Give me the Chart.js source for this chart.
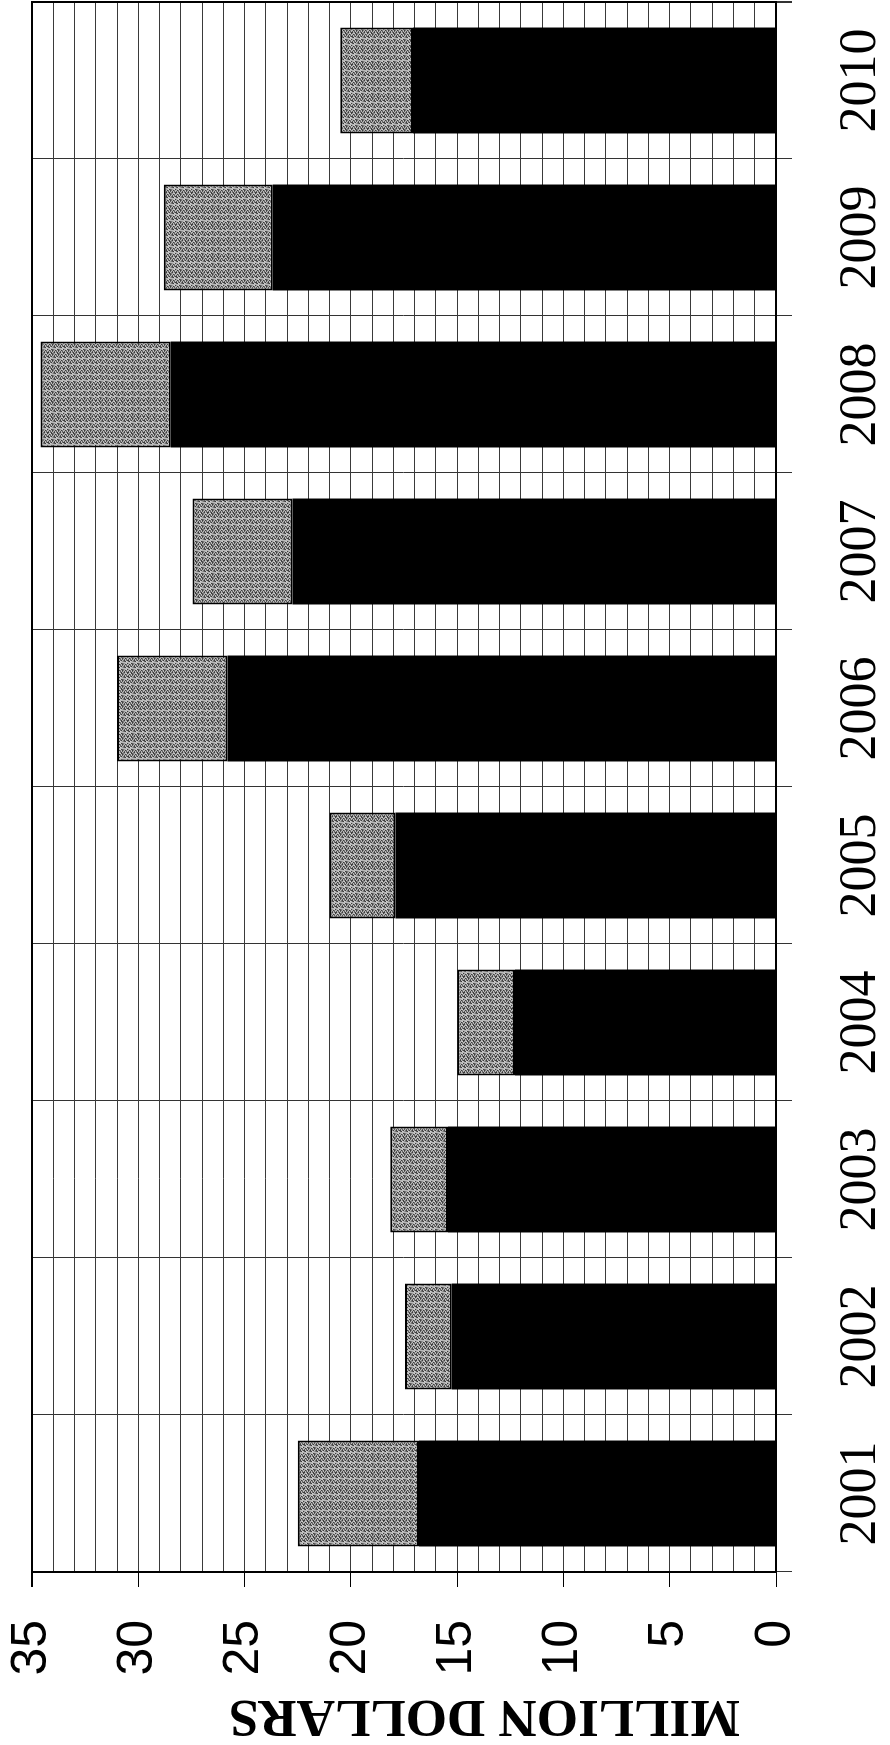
<!DOCTYPE html>
<html lang="en">
<head>
<meta charset="UTF-8" />
<title>Million dollars by year</title>
<script src="https://cdn.jsdelivr.net/npm/chart.js"></script>
<style>
  html, body { margin: 0; padding: 0; background: #fff; overflow: hidden; }
  body { width: 890px; height: 1745px; position: relative; }
  /* chart is drawn upright, then turned a quarter to the left like the scan */
  .turn {
    position: absolute;
    left: 0;
    top: 0;
    width: 1745px;
    height: 890px;
    transform-origin: 0 0;
    transform: translate(0, 1745px) rotate(-90deg);
  }
</style>
</head>
<body>
<div class="turn"><canvas id="chart" width="1745" height="890"></canvas></div>
<script>
  // data (million dollars)
  const years = ['2001', '2002', '2003', '2004', '2005', '2006', '2007', '2008', '2009', '2010'];
  const baseValues = [16.8, 15.25, 15.43, 12.28, 17.9, 25.8, 22.75, 28.47, 23.67, 17.08];
  const topValues = [5.7, 2.2, 2.72, 2.72, 3.1, 5.2, 4.7, 6.13, 5.13, 3.42];
  const valueMax = 35;
  const labelStep = 5;

  const serif = "'Liberation Serif', 'Times New Roman', Times, serif";
  const sans = "'Liberation Sans', Arial, Helvetica, sans-serif";
  Chart.defaults.font.family = serif;

  // speckled grey fill for the upper block (fixed tile, no randomness)
  function grainPattern() {
    const n = 16;
    const tile = document.createElement('canvas');
    tile.width = n;
    tile.height = n;
    const g = tile.getContext('2d');
    const shades = ['#3c3c3c', '#5a5a5a', '#7a7a7a', '#9a9a9a', '#b8b8b8', '#d4d4d4'];
    for (let i = 0; i < n; i++) {
      for (let j = 0; j < n; j++) {
        const k = (i * i * 7 + j * 13 + i * j * 5 + j * j * 3) % shades.length;
        g.fillStyle = shades[k];
        g.fillRect(i, j, 1, 1);
      }
    }
    return g.createPattern(tile, 'repeat');
  }

  // axis title sits off-centre toward zero, so it is drawn by hand
  const axisTitle = {
    id: 'axisTitle',
    afterDraw(chart) {
      const c = chart.ctx;
      c.save();
      c.translate(30, chart.chartArea.bottom - 36);
      c.rotate(-Math.PI / 2);
      c.font = 'bold 53px ' + serif;
      c.textAlign = 'left';
      c.textBaseline = 'middle';
      c.fillStyle = '#000';
      c.fillText('MILLION DOLLARS', 0, 0);
      c.restore();
    }
  };

  // plot frame on the two open sides
  const frame = {
    id: 'frame',
    afterDatasetsDraw(chart) {
      const a = chart.chartArea;
      const c = chart.ctx;
      c.save();
      c.strokeStyle = '#000';
      c.lineWidth = 2;
      c.strokeRect(a.left, a.top, a.right - a.left, a.bottom - a.top);
      c.restore();
    }
  };

  new Chart(document.getElementById('chart'), {
    type: 'bar',
    data: {
      labels: years,
      datasets: [
        {
          data: baseValues,
          backgroundColor: '#000',
          borderWidth: 0
        },
        {
          data: topValues,
          backgroundColor: grainPattern(),
          borderColor: '#000',
          borderWidth: 2,
          borderSkipped: false
        }
      ]
    },
    options: {
      responsive: false,
      devicePixelRatio: 1,
      animation: false,
      events: [],
      layout: { padding: { top: 32, right: 2, left: 0, bottom: 0 } },
      plugins: {
        legend: { display: false },
        tooltip: { enabled: false }
      },
      datasets: {
        bar: { categoryPercentage: 1, barPercentage: 0.675 }
      },
      scales: {
        x: {
          stacked: true,
          grid: {
            offset: true,
            color: '#333',
            lineWidth: ctx => ctx.type === 'tick' ? 1 : 2,
            tickLength: 16,
            tickColor: '#333'
          },
          border: { color: '#000', width: 2 },
          ticks: {
            color: '#000',
            maxRotation: 0,
            padding: 38,
            font: { family: serif, size: 52 }
          },
          afterFit(scale) {
            scale.height = 114;
            scale.paddingLeft = 0;
            scale.paddingRight = 0;
          }
        },
        y: {
          stacked: true,
          min: 0,
          max: valueMax,
          grid: {
            color: '#3a3a3a',
            lineWidth: ctx => (ctx.tick && ctx.tick.value === valueMax) ? 2 : 1,
            tickLength: 15,
            tickColor: ctx => (ctx.tick && ctx.tick.value % labelStep === 0) ? '#000' : 'rgba(0,0,0,0)'
          },
          border: { color: '#000', width: 2 },
          ticks: {
            stepSize: 1,
            autoSkip: false,
            color: '#000',
            padding: 33,
            font: { family: sans, size: 50 },
            callback: v => v % labelStep === 0 ? String(v) : ''
          },
          afterFit(scale) {
            scale.width = 173;
            scale.paddingTop = 0;
            scale.paddingBottom = 0;
          }
        }
      }
    },
    plugins: [axisTitle, frame]
  });
</script>
</body>
</html>
